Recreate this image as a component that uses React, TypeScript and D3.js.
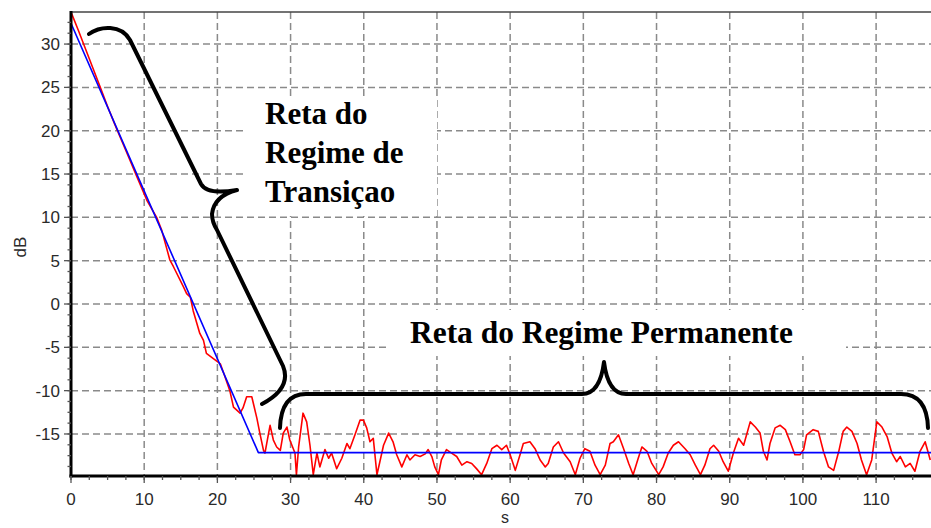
import React from "react";
import * as d3 from "d3";

// Measured decay curve (red): time in seconds, level in dB
const RED_T = [
  0, 1, 2, 3, 4, 5, 6, 7, 8, 9, 10.35, 11.7, 12.4, 13.5, 14.0, 15.35, 15.8, 16.3, 16.7, 17.6,
  18.1, 18.5, 19.45, 20.1, 20.4, 21.0, 21.7, 22.2, 23.1, 23.5, 24.0, 24.7, 25.4, 25.8, 26.3,
  26.5, 27.0, 27.2, 27.65, 28.1, 28.6, 29.0, 29.5, 29.9, 30.6, 30.8, 31.1, 31.7, 32.2, 32.65,
  33.1, 33.6, 34.0, 34.7, 35.2, 35.6, 36.3, 37.0, 37.7, 38.1, 38.8, 39.5, 39.95, 40.4, 40.85,
  41.3, 41.8, 42.2, 42.7, 43.4, 44.0, 44.5, 45.2, 45.9, 46.3, 47.0, 47.7, 48.4, 48.8, 49.3,
  49.7, 50.2, 50.6, 51.3, 52.0, 52.7, 53.4, 54.1, 54.75, 55.4, 56.1, 56.8, 57.5, 58.2, 58.85,
  59.5, 60.0, 60.7, 61.35, 61.8, 62.7, 63.4, 64.1, 64.8, 65.2, 65.9, 66.6, 67.3, 68.2, 68.9,
  69.55, 70.2, 70.9, 71.6, 72.3, 73.0, 73.65, 74.1, 74.8, 75.5, 76.2, 76.8, 77.5, 78.0, 78.7,
  79.35, 80.3, 80.9, 81.6, 82.3, 83.0, 83.9, 84.6, 85.3, 86.0, 86.6, 87.3, 87.8, 88.5, 89.1,
  89.8, 90.5, 91.2, 91.9, 92.8, 93.5, 94.15, 94.6, 95.1, 95.5, 96.2, 96.9, 97.6, 98.25, 98.9,
  99.6, 100.1, 100.5, 101.4, 102.1, 102.8, 103.5, 104.2, 104.9, 105.5, 106.0, 106.7, 107.4,
  108.0, 108.7, 109.4, 110.1, 110.8, 111.5, 112.15, 112.8, 113.3, 114.0, 114.65, 115.3, 116.0,
  116.7, 117.4,
];
const RED_DB = [
  33.7, 31.6, 29.4, 27.2, 25.0, 22.8, 20.7, 18.7, 16.7, 14.7, 12.0, 10.0, 8.5, 5.1, 4.3, 2.0, 1.2, 0.8, -0.8, -3.4,
  -4.2, -5.7, -6.3, -6.7, -6.9, -8.3, -10.0, -11.9, -12.6, -12.0, -10.7, -10.7, -13.2, -14.9, -16.9,
  -17.2, -14.9, -14.0, -15.7, -16.5, -16.9, -14.9, -14.2, -15.7, -17.2, -19.7, -16.5, -12.6, -13.6, -16.3,
  -19.7, -17.2, -18.8, -16.8, -17.8, -17.2, -19.0, -17.8, -16.1, -16.7, -15.1, -13.4, -13.4, -14.3, -15.9,
  -15.5, -19.7, -18.2, -16.3, -14.9, -15.9, -17.4, -18.8, -17.4, -18.0, -17.4, -17.6, -17.3, -16.8, -17.6,
  -18.8, -19.7, -18.0, -16.8, -17.2, -17.6, -18.6, -18.2, -18.4, -19.0, -19.7, -18.4, -16.7, -16.3, -16.8,
  -16.3, -17.4, -19.2, -17.4, -16.1, -15.9, -16.7, -18.0, -18.8, -18.4, -16.5, -15.9, -17.2, -18.2, -19.7,
  -17.8, -16.7, -17.0, -18.6, -19.7, -18.6, -16.1, -15.9, -15.1, -16.7, -18.4, -19.7, -17.8, -16.5, -17.0,
  -18.4, -19.7, -18.8, -17.2, -16.3, -15.9, -16.7, -17.4, -18.6, -19.7, -18.6, -16.7, -16.3, -17.0, -18.2,
  -19.3, -17.2, -15.5, -16.3, -13.6, -14.2, -14.9, -17.0, -18.0, -16.1, -14.3, -14.0, -14.5, -15.9, -17.4,
  -17.4, -16.8, -15.1, -14.5, -14.7, -17.0, -18.8, -19.2, -17.0, -14.7, -14.2, -14.7, -16.1,
  -18.0, -19.7, -18.0, -13.6, -14.2, -15.3, -17.2, -18.2, -17.6, -18.8, -18.4, -19.3, -17.0,
  -15.9, -18.0,
];

// Fitted reference lines (blue): transient slope, then the steady-state floor
const BLUE_T = [0, 25.6, 117.5];
const BLUE_DB = [32.4, -17.15, -17.15];

const X_TICKS = [0, 10, 20, 30, 40, 50, 60, 70, 80, 90, 100, 110];
const Y_TICKS = [-15, -10, -5, 0, 5, 10, 15, 20, 25, 30];

const TRANSIENT_LABEL = ["Reta do", "Regime de", "Transiçao"];
const STEADY_LABEL = "Reta do Regime Permanente";

const W = 931;
const H = 528;
const LEFT = 71;
const RIGHT = 931;
const TOP = 12;
const BOTTOM = 476;

export default function App() {
  const x = d3.scaleLinear().domain([0, 117.5]).range([LEFT, RIGHT]);
  const y = d3.scaleLinear().domain([-19.85, 33.7]).range([BOTTOM, TOP]);

  const line = d3
    .line<[number, number]>()
    .x((d) => x(d[0]))
    .y((d) => y(d[1]));

  const redPts = RED_T.map((t, i) => [t, RED_DB[i]] as [number, number]);
  const bluePts = BLUE_T.map((t, i) => [t, BLUE_DB[i]] as [number, number]);

  const xMinor = d3.range(0, 117.5, 2.5);
  const yMinor = d3.range(-18.75, 33.7, 1.25);

  const sans = "'Liberation Sans', Arial, sans-serif";
  const serif = "'Liberation Serif', 'Times New Roman', serif";
  const gridColor = "#8a8a8a";

  return (
    <svg
      width={W}
      height={H}
      style={{ position: "absolute", left: 0, top: 0, display: "block", background: "#fff" }}
    >
      <defs>
        <clipPath id="plot-area">
          <rect x={LEFT} y={TOP} width={RIGHT - LEFT} height={BOTTOM - TOP} />
        </clipPath>
      </defs>

      {/* dashed grid */}
      <g stroke={gridColor} strokeWidth={1.5} strokeDasharray="7,4">
        {X_TICKS.filter((t) => t > 0).map((t) => (
          <line key={"gx" + t} x1={x(t)} x2={x(t)} y1={TOP} y2={BOTTOM} />
        ))}
        {Y_TICKS.map((t) => (
          <line key={"gy" + t} x1={LEFT} x2={RIGHT} y1={y(t)} y2={y(t)} />
        ))}
      </g>

      {/* label backgrounds */}
      <rect x={243} y={96} width={194} height={120} fill="#fff" />
      <rect x={389} y={310} width={457} height={46} fill="#fff" />

      {/* data */}
      <g clipPath="url(#plot-area)" fill="none" strokeLinejoin="round">
        <path d={line(redPts) || ""} stroke="#ff0000" strokeWidth={1.6} />
        <path d={line(bluePts) || ""} stroke="#0000ff" strokeWidth={1.6} />
      </g>

      {/* frame and axes */}
      <line x1={LEFT} x2={RIGHT} y1={TOP} y2={TOP} stroke="#444" strokeWidth={1.6} />
      <line x1={LEFT} x2={LEFT} y1={TOP - 1} y2={BOTTOM + 1.5} stroke="#000" strokeWidth={3} />
      <line x1={LEFT - 1.5} x2={RIGHT} y1={BOTTOM} y2={BOTTOM} stroke="#000" strokeWidth={3} />

      {/* ticks */}
      <g stroke="#555" strokeWidth={1.3}>
        {xMinor.map((t) => (
          <line key={"xm" + t} x1={x(t)} x2={x(t)} y1={BOTTOM} y2={BOTTOM + 4} />
        ))}
        {X_TICKS.map((t) => (
          <line key={"xM" + t} x1={x(t)} x2={x(t)} y1={BOTTOM} y2={BOTTOM + 7} />
        ))}
        {yMinor.map((t) => (
          <line key={"ym" + t} x1={LEFT - 3.5} x2={LEFT} y1={y(t)} y2={y(t)} />
        ))}
        {Y_TICKS.map((t) => (
          <line key={"yM" + t} x1={LEFT - 7} x2={LEFT} y1={y(t)} y2={y(t)} />
        ))}
      </g>

      {/* tick labels */}
      <g fontFamily={sans} fontSize={17} fill="#2a2a2a">
        {X_TICKS.map((t) => (
          <text key={"xl" + t} x={x(t)} y={505} textAnchor="middle">
            {t}
          </text>
        ))}
        {Y_TICKS.map((t) => (
          <text key={"yl" + t} x={60} y={y(t) + 6} textAnchor="end">
            {t}
          </text>
        ))}
        <text x={505} y={523} fontSize={16} textAnchor="middle">
          s
        </text>
        <text transform="translate(26,247) rotate(-90)" textAnchor="middle">
          dB
        </text>
      </g>

      {/* braces */}
      <g fill="none" stroke="#000" strokeWidth={4} strokeLinecap="round" strokeLinejoin="round">
        <path d="M89,34 C100,26 121,24 130,40 L201,184 Q207,195 237,190 Q214,196 212,214 Q212,222 217,230 L283,366 Q292,388 262,404" />
        <path d="M280,428 Q281,394 306,394 L582,394 Q600,394 604,362 Q608,394 626,394 L901,394 Q927,394 928,428" />
      </g>

      {/* annotations */}
      <g fontFamily={serif} fontWeight="bold" fontSize={31} fill="#000">
        {TRANSIENT_LABEL.map((s, i) => (
          <text key={s} x={265} y={124 + i * 39}>
            {s}
          </text>
        ))}
        <text x={410} y={343} textLength={383} lengthAdjust="spacingAndGlyphs">
          {STEADY_LABEL}
        </text>
      </g>
    </svg>
  );
}
